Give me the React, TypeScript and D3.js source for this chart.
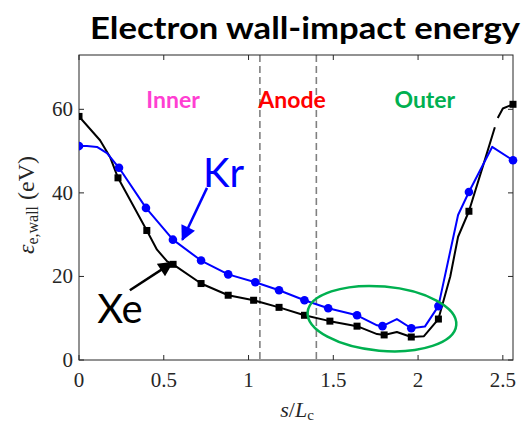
import React from "react";
import * as d3 from "d3";

// Position along the channel (s/Lc) and electron wall-impact energy (eV)
const krS = [0, 0.047, 0.106, 0.165, 0.236, 0.395, 0.554, 0.72, 0.88, 1.04, 1.18, 1.33, 1.47, 1.64, 1.758, 1.79, 1.875, 1.96, 2.04, 2.12, 2.236, 2.30, 2.437, 2.56];
const krE = [51.2, 51.2, 51.0, 49.5, 46.0, 36.4, 28.8, 23.8, 20.5, 18.6, 16.7, 14.3, 12.4, 10.7, 8.3, 8.1, 9.8, 7.6, 8.0, 12.9, 34.7, 40.2, 51.0, 47.8];
const krMarked = [1, 0, 0, 0, 1, 1, 1, 1, 1, 1, 1, 1, 1, 1, 0, 1, 0, 1, 0, 1, 0, 1, 0, 1];

const xeS = [0, 0.124, 0.183, 0.23, 0.40, 0.46, 0.52, 0.555, 0.72, 0.88, 1.03, 1.18, 1.33, 1.48, 1.64, 1.758, 1.80, 1.875, 1.96, 2.035, 2.12, 2.19, 2.236, 2.30, 2.394, 2.453, NaN, 2.47, 2.50, 2.56];
const xeE = [58.3, 52.6, 48.6, 43.6, 31.0, 26.4, 23.6, 22.9, 18.3, 15.5, 14.3, 12.6, 10.7, 9.3, 8.1, 6.2, 6.0, 6.7, 5.5, 5.7, 9.8, 20.0, 29.5, 35.6, 47.9, 55.7, NaN, 57.9, 60.2, 61.2];
const xeMarked = [1, 0, 0, 1, 1, 0, 0, 1, 1, 1, 1, 1, 1, 1, 1, 0, 1, 0, 1, 0, 1, 0, 0, 1, 0, 0, 0, 0, 0, 1];

const xTicks = [0, 0.5, 1, 1.5, 2, 2.5];
const xTickLabels = ["0", "0.5", "1", "1.5", "2", "2.5"];
const yTicks = [0, 20, 40, 60];
const yTickLabels = ["0", "20", "40", "60"];

// Region boundaries and their labels
const boundaries = [1.067, 1.4];
const regionNames = ["Inner", "Anode", "Outer"];
const regionCenters = [0.555, 1.257, 2.04];
const regionColors = ["#ff3fd2", "#ff0000", "#00b050"];

const W = 524;
const H = 426;
const left = 79;
const right = 513;
const top = 55;
const bottom = 360;

export default function App() {
  const x = d3.scaleLinear().domain([0, 2.56]).range([left, right]);
  const y = d3.scaleLinear().domain([0, 73]).range([bottom, top]);

  const mkPath = (S: number[], E: number[]) =>
    d3
      .line<number>()
      .defined((_, i) => !Number.isNaN(S[i]) && !Number.isNaN(E[i]))
      .x((_, i) => x(S[i]))
      .y((_, i) => y(E[i]))(S) || "";

  const serif = "'Liberation Serif', 'DejaVu Serif', serif";
  const sans = "Lato, 'Open Sans', 'DejaVu Sans', sans-serif";
  const axisColor = "#262626";

  // ellipse around the outer-region dip
  const ex = x(1.787);
  const ey = y(9.9);
  const erx = x(1.787 + 0.44) - ex;
  const ery = y(0) - y(7.7);

  return (
    <svg
      width={W}
      height={H}
      style={{ position: "absolute", left: 0, top: 0, background: "#fff" }}
    >
      <defs>
        <marker id="headBlue" viewBox="0 0 10 10" refX="9" refY="5" markerWidth="6.5" markerHeight="6" orient="auto" markerUnits="strokeWidth">
          <path d="M0,0 L10,5 L0,10 z" fill="#0000ff" />
        </marker>
        <marker id="headBlack" viewBox="0 0 10 10" refX="9" refY="5" markerWidth="6.5" markerHeight="6" orient="auto" markerUnits="strokeWidth">
          <path d="M0,0 L10,5 L0,10 z" fill="#000" />
        </marker>
        <clipPath id="plotClip">
          <rect x={left} y={top - 5} width={right - left + 6} height={bottom - top + 10} />
        </clipPath>
      </defs>

      {/* title */}
      <text
        x={90}
        y={39}
        fontFamily={sans}
        fontWeight={700}
        fontSize={30}
        textLength={430}
        lengthAdjust="spacingAndGlyphs"
        fill="#000"
      >
        Electron wall-impact energy
      </text>

      {/* region boundaries */}
      {boundaries.map((b, i) => (
        <line
          key={"b" + i}
          x1={x(b)}
          x2={x(b)}
          y1={top}
          y2={bottom}
          stroke="#808080"
          strokeWidth={1.6}
          strokeDasharray="7,4"
        />
      ))}

      {/* region labels */}
      {regionNames.map((n, i) => (
        <text
          key={n}
          x={x(regionCenters[i])}
          y={y(60.3)}
          textAnchor="middle"
          fontFamily={sans}
          fontWeight={700}
          fontSize={23}
          fill={regionColors[i]}
        >
          {n}
        </text>
      ))}

      {/* axes box */}
      <rect x={left} y={top} width={right - left} height={bottom - top} fill="none" stroke={axisColor} strokeWidth={1} />
      {xTicks.map((t, i) => (
        <g key={"xt" + i}>
          <line x1={x(t)} x2={x(t)} y1={bottom} y2={bottom - 5} stroke={axisColor} />
          <line x1={x(t)} x2={x(t)} y1={top} y2={top + 5} stroke={axisColor} />
          <text x={x(t)} y={bottom + 27} textAnchor="middle" fontFamily={serif} fontSize={21} fill={axisColor}>
            {xTickLabels[i]}
          </text>
        </g>
      ))}
      {yTicks.map((t, i) => (
        <g key={"yt" + i}>
          <line x1={left} x2={left + 5} y1={y(t)} y2={y(t)} stroke={axisColor} />
          <line x1={right} x2={right - 5} y1={y(t)} y2={y(t)} stroke={axisColor} />
          <text x={left - 6} y={y(t) + 7} textAnchor="end" fontFamily={serif} fontSize={21} fill={axisColor}>
            {yTickLabels[i]}
          </text>
        </g>
      ))}

      {/* axis labels */}
      <text x={297} y={417} textAnchor="middle" fontFamily={serif} fontSize={22} fill={axisColor}>
        <tspan fontStyle="italic">s</tspan>
        <tspan>/</tspan>
        <tspan fontStyle="italic">L</tspan>
        <tspan fontSize={15} dy={3}>c</tspan>
      </text>
      <text
        transform={`translate(34,205) rotate(-90)`}
        textAnchor="middle"
        fontFamily={serif}
        fontSize={24}
        fill={axisColor}
      >
        <tspan fontStyle="italic">ε</tspan>
        <tspan fontSize={16} dy={4}>e,wall</tspan>
        <tspan dy={-4}> (eV)</tspan>
      </text>

      {/* series */}
      <g clipPath="url(#plotClip)">
        <path d={mkPath(xeS, xeE)} fill="none" stroke="#000" strokeWidth={2} strokeLinejoin="round" />
        {xeS.map((s, i) =>
          xeMarked[i] ? (
            <rect key={"xm" + i} x={x(s) - 3.5} y={y(xeE[i]) - 3.5} width={7} height={7} fill="#000" />
          ) : null
        )}
        <path d={mkPath(krS, krE)} fill="none" stroke="#0000ff" strokeWidth={2} strokeLinejoin="round" />
        {krS.map((s, i) =>
          krMarked[i] ? <circle key={"km" + i} cx={x(s)} cy={y(krE[i])} r={4.3} fill="#0000ff" /> : null
        )}
      </g>

      {/* ellipse highlight */}
      <ellipse
        cx={ex}
        cy={ey}
        rx={erx}
        ry={ery}
        transform={`rotate(5,${ex},${ey})`}
        fill="none"
        stroke="#00b050"
        strokeWidth={2.5}
      />

      {/* species annotations */}
      <text x={x(0.732)} y={y(41.4)} fontFamily={sans} fontSize={40} fill="#0000ff">
        Kr
      </text>
      <line
        x1={x(0.755)}
        y1={y(41.2)}
        x2={x(0.61)}
        y2={y(28.8)}
        stroke="#0000ff"
        strokeWidth={2.5}
        markerEnd="url(#headBlue)"
      />
      <text x={x(0.107)} y={y(8.9)} fontFamily={sans} fontSize={40} fill="#000">
        Xe
      </text>
      <line
        x1={x(0.3)}
        y1={y(16.7)}
        x2={x(0.55)}
        y2={y(23.3)}
        stroke="#000"
        strokeWidth={2.5}
        markerEnd="url(#headBlack)"
      />
    </svg>
  );
}
